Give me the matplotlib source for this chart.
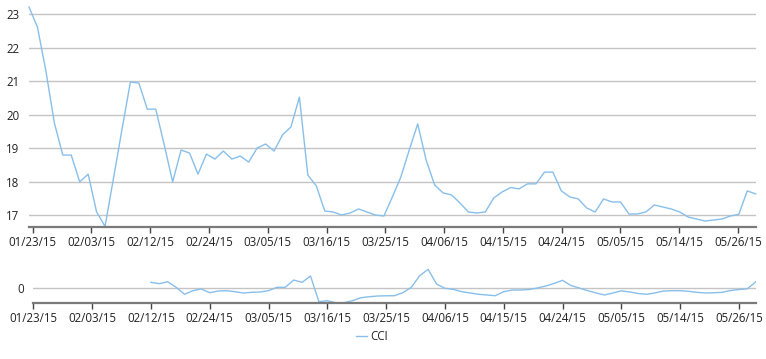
import numpy as np
import matplotlib
matplotlib.use("Agg")
import matplotlib.pyplot as plt

# ---- data ----
price = [23.21, 22.61, 21.3, 19.75, 18.79, 18.79, 17.99, 18.22, 17.09, 16.66,
         18.1, 19.55, 20.97, 20.94, 20.16, 20.16, 19.1, 17.99, 18.94, 18.85,
         18.22, 18.82, 18.67, 18.91, 18.67, 18.76, 18.58, 19.0, 19.12, 18.91,
         19.39, 19.63, 20.52, 18.19, 17.87, 17.12, 17.09, 17.0, 17.06, 17.18,
         17.09, 17.0, 16.97, 17.54, 18.13, 18.94, 19.72, 18.64, 17.9, 17.66,
         17.6, 17.36, 17.09, 17.06, 17.09, 17.51, 17.69, 17.82, 17.78, 17.93,
         17.93, 18.28, 18.28, 17.72, 17.54, 17.48, 17.21, 17.09, 17.48, 17.39,
         17.39, 17.03, 17.03, 17.09, 17.3, 17.24, 17.18, 17.09, 16.94, 16.88,
         16.82, 16.85, 16.88, 16.97, 17.02, 17.72, 17.63]

cci_start = 14
cci = [83, 64, 92, 14, -83, -33, -10, -61, -38, -33,
       -47, -65, -56, -51, -33, 14, 14, 115, 83, 171,
       -186, -172, -200, -200, -172, -131, -117, -107, -104, -103,
       -61, 14, 175, 264, 60, 0, -14, -47, -65, -83,
       -93, -103, -47, -24, -24, -17, 4, 32, 67, 111,
       39, 4, -33, -65, -93, -65, -35, -51, -72, -83,
       -65, -38, -33, -33, -42, -56, -65, -62, -56, -31,
       -17, -7, 88]

tick_labels = ['01/23/15', '02/03/15', '02/12/15', '02/24/15', '03/05/15',
               '03/16/15', '03/25/15', '04/06/15', '04/15/15', '04/24/15',
               '05/05/15', '05/14/15', '05/26/15']
y_ticks_top = [17, 18, 19, 20, 21, 22, 23]
legend_label = 'CCI'

# ---- style ----
W, H = 766, 359
line_color = '#88bfea'
grid_color = '#c4c4c4'
axis_color = '#7a7a7a'
text_color = '#222222'
plt.rcParams['font.family'] = ['Open Sans', 'DejaVu Sans']
fs = 8.3

fig = plt.figure(figsize=(W / 100, H / 100), dpi=100)

def px_axes(left, top, right, bottom):
    return fig.add_axes([left / W, 1 - bottom / H, (right - left) / W, (bottom - top) / H])

n = len(price)
x = np.arange(n)

# top panel
ax1 = px_axes(29, 2, 755.7, 227)
ax1.plot(x, price, color=line_color, lw=1.0, clip_on=False)
ax1.set_xlim(0, n - 1)
ax1.set_ylim(16.642, 23.36)
ax1.set_yticks(y_ticks_top)
ax1.set_yticklabels([str(v) for v in y_ticks_top])
top_tick_pos = np.arange(len(tick_labels)) * 7 * 0.9935 + 0.44
ax1.set_xticks(top_tick_pos)
ax1.set_xticklabels(tick_labels)

# bottom panel
ax2 = px_axes(33.3, 258, 755.7, 302.7)
xc = np.arange(cci_start, cci_start + len(cci))
ax2.plot(xc, cci, color=line_color, lw=1.0, label=legend_label)
ax2.set_xlim(0, n - 1)
ax2.set_ylim(-200, 421)
ax2.set_yticks([0])
ax2.set_yticklabels(['0'])
ax2.set_xticks(np.arange(len(tick_labels)) * 7)
ax2.set_xticklabels(tick_labels)

for ax in (ax1, ax2):
    for s in ('top', 'right', 'left'):
        ax.spines[s].set_visible(False)
    ax.spines['bottom'].set_color(axis_color)
    ax.spines['bottom'].set_linewidth(1.6)
    ax.grid(axis='y', color=grid_color, lw=1.0)
    ax.set_axisbelow(True)
    ax.tick_params(axis='y', length=0, pad=7, labelsize=fs, labelcolor=text_color)
    ax.tick_params(axis='x', length=4.5, width=1.0, color='#444444', pad=2,
                   labelsize=fs, labelcolor=text_color)
    ax.patch.set_visible(False)

leg = fig.legend(handles=ax2.get_lines(), labels=[legend_label],
                 loc='center', bbox_to_anchor=(372 / W, 1 - 337 / H),
                 frameon=False, fontsize=fs, handlelength=1.0,
                 handletextpad=0.3, labelcolor=text_color)

fig.savefig('out.png', dpi=100)
